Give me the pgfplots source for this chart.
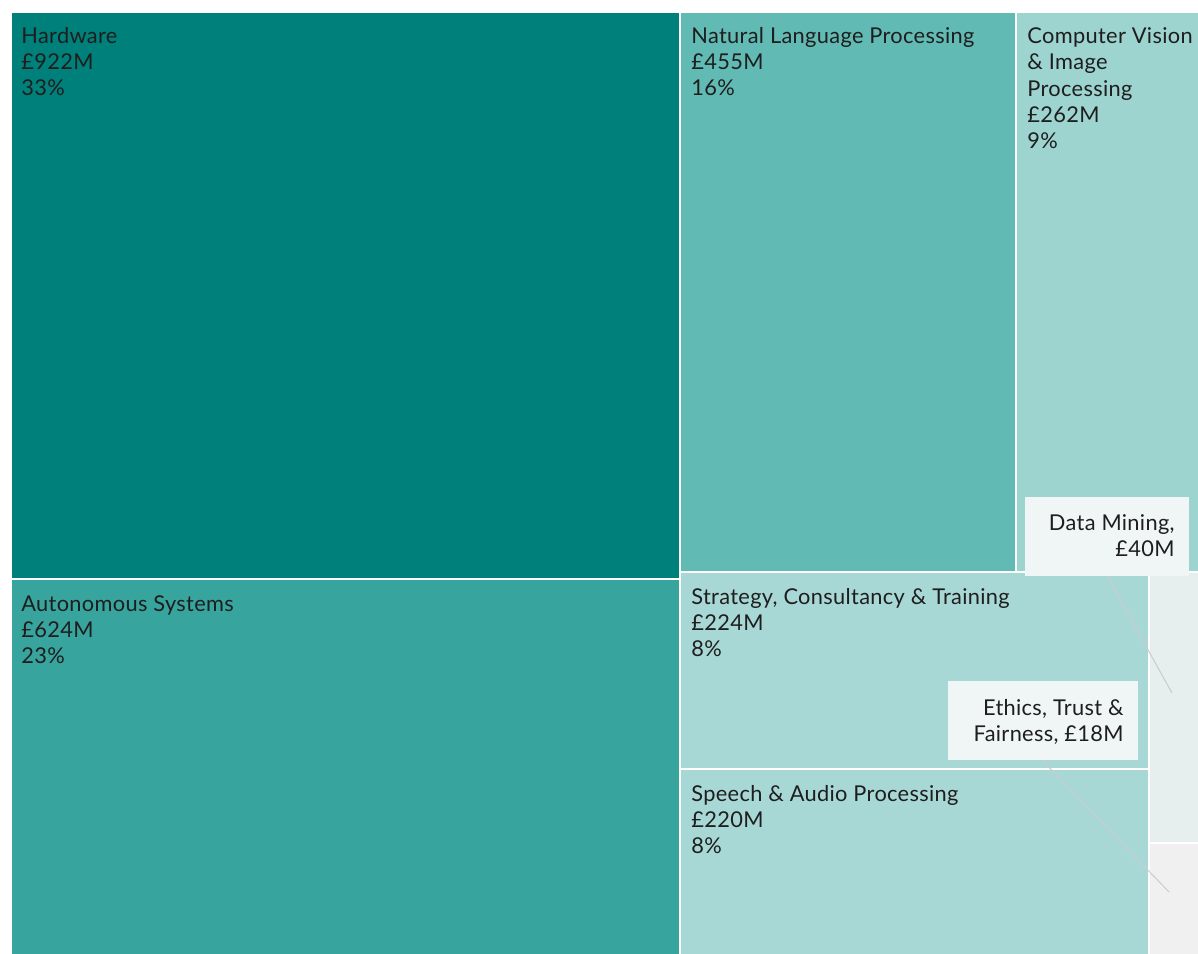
\documentclass[border=0pt]{standalone}
\usepackage{fontspec}
\setmainfont[LetterSpace=1.5]{Lato}
\usepackage{pgfplots}
\pgfplotsset{compat=1.18}

\definecolor{hw}{HTML}{00807A}
\definecolor{auto}{HTML}{38A49E}
\definecolor{nlp}{HTML}{62BAB4}
\definecolor{cv}{HTML}{9DD4D0}
\definecolor{strat}{HTML}{A8D8D5}
\definecolor{dm}{HTML}{E7EEEE}
\definecolor{eth}{HTML}{F0F0F0}
\definecolor{lbl}{HTML}{F0F6F6}
\definecolor{txt}{HTML}{1E1E1E}

% one label line, baseline at (x,y) in pixel units
\newcommand{\lab}[3]{\node[anchor=base west, inner sep=0pt, text=txt] at (axis cs:#1,#2) {#3};}
\newcommand{\labr}[3]{\node[anchor=base east, inner sep=0pt, text=txt] at (axis cs:#1,#2) {#3};}

\begin{document}
\begin{tikzpicture}
\begin{axis}[
  width=599pt, height=476.5pt,
  scale only axis,
  xmin=0, xmax=1198,
  ymin=0, ymax=953,
  y dir=reverse,
  hide axis,
  clip=true,
  font=\fontsize{10.9}{13}\selectfont,
]
% keep the full canvas
\addplot[draw=none, forget plot] coordinates {(0,0) (1198,953)};

% tiles: corners in pixel units
\addplot[fill=hw, draw=white, line width=0.8pt] coordinates {(11,12) (680,12) (680,579) (11,579)} --cycle;
\addplot[fill=auto, draw=white, line width=0.8pt] coordinates {(11,579) (680,579) (680,960) (11,960)} --cycle;
\addplot[fill=nlp, draw=white, line width=0.8pt] coordinates {(680,12) (1016,12) (1016,572) (680,572)} --cycle;
\addplot[fill=cv, draw=white, line width=0.8pt] coordinates {(1016,12) (1205,12) (1205,572) (1016,572)} --cycle;
\addplot[fill=strat, draw=white, line width=0.8pt] coordinates {(680,572) (1149,572) (1149,769) (680,769)} --cycle;
\addplot[fill=strat, draw=white, line width=0.8pt] coordinates {(680,769) (1149,769) (1149,960) (680,960)} --cycle;
\addplot[fill=dm, draw=white, line width=0.8pt] coordinates {(1149,572) (1205,572) (1205,843) (1149,843)} --cycle;
\addplot[fill=eth, draw=white, line width=0.8pt] coordinates {(1149,843) (1205,843) (1205,960) (1149,960)} --cycle;

% leader lines
\addplot[draw=black!20, line width=0.5pt] coordinates {(1107,576) (1172,693)};
\addplot[draw=black!20, line width=0.5pt] coordinates {(1042,760) (1169,892)};

% label boxes for the small tiles
\addplot[fill=lbl, draw=none] coordinates {(1025,497) (1189,497) (1189,576) (1025,576)} --cycle;
\addplot[fill=lbl, draw=none] coordinates {(948,681) (1138,681) (1138,760) (948,760)} --cycle;

% tile labels
\lab{21}{43}{Hardware}
\lab{21}{69}{£922M}
\lab{21}{95}{33\%}

\lab{21}{611}{Autonomous Systems}
\lab{21}{637}{£624M}
\lab{21}{663}{23\%}

\lab{691}{43}{Natural Language Processing}
\lab{691}{69}{£455M}
\lab{691}{95}{16\%}

\lab{1027}{43}{Computer Vision}
\lab{1027}{69}{\& Image}
\lab{1027}{96}{Processing}
\lab{1027}{122}{£262M}
\lab{1027}{148}{9\%}

\lab{691}{604}{Strategy, Consultancy \& Training}
\lab{691}{630}{£224M}
\lab{691}{656}{8\%}

\lab{691}{801}{Speech \& Audio Processing}
\lab{691}{827}{£220M}
\lab{691}{853}{8\%}

\labr{1175}{530}{Data Mining,}
\labr{1175}{556}{£40M}
\labr{1124}{715}{Ethics, Trust \&}
\labr{1124}{741}{Fairness, £18M}
\end{axis}
\end{tikzpicture}
\end{document}
